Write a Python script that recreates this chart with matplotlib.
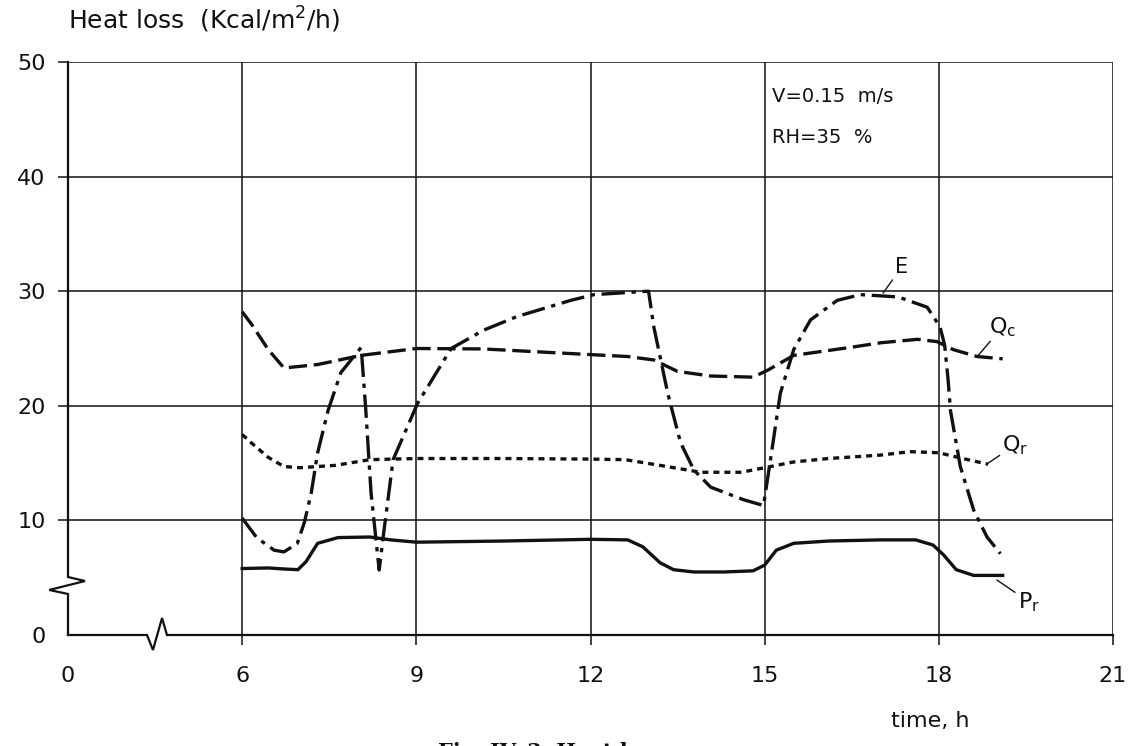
import numpy as np
import matplotlib
matplotlib.use("Agg")
import matplotlib.pyplot as plt
from matplotlib.transforms import blended_transform_factory

# hours (x) and heat loss in Kcal/m2/h (y)
pr_x = [6.0, 6.45, 6.72, 6.96, 7.1, 7.3, 7.65, 8.2, 8.56, 9.0, 10.5, 12.0, 12.64, 12.9,
        13.2, 13.43, 13.78, 14.3, 14.8, 15.0, 15.2, 15.5, 16.1, 17.0, 17.6, 17.9, 18.08,
        18.3, 18.6, 19.1]
pr_y = [5.8, 5.85, 5.76, 5.7, 6.4, 8.0, 8.5, 8.55, 8.3, 8.1, 8.2, 8.35, 8.3, 7.7,
        6.3, 5.7, 5.5, 5.5, 5.6, 6.1, 7.4, 8.0, 8.2, 8.3, 8.3, 7.85, 7.0,
        5.7, 5.2, 5.2]

qr_x = [6.0, 6.15, 6.45, 6.72, 7.0, 7.6, 8.2, 9.0, 10.5, 12.0, 12.6, 13.2, 13.9, 14.6,
        15.0, 15.5, 16.1, 17.0, 17.5, 18.0, 18.5, 18.85]
qr_y = [17.5, 16.8, 15.5, 14.7, 14.6, 14.8, 15.3, 15.4, 15.4, 15.35, 15.3, 14.8, 14.2, 14.2,
        14.6, 15.1, 15.4, 15.7, 16.0, 15.9, 15.3, 14.9]

qc_x = [6.0, 6.15, 6.45, 6.72, 7.3, 8.05, 9.0, 10.16, 11.5, 12.64, 13.09, 13.5, 14.07, 14.8,
        15.05, 15.5, 16.48, 17.0, 17.63, 17.97, 18.25, 18.66, 19.1]
qc_y = [28.2, 27.2, 24.9, 23.3, 23.6, 24.4, 25.0, 24.96, 24.6, 24.3, 24.0, 23.0, 22.6, 22.5,
        23.1, 24.4, 25.1, 25.5, 25.8, 25.6, 24.9, 24.3, 24.1]

e_x = [6.0, 6.25, 6.55, 6.72, 6.95, 7.07, 7.19, 7.3, 7.48, 7.7, 8.05, 8.13, 8.22, 8.36,
       8.45, 8.6, 9.02, 9.6, 10.16, 10.74, 11.66, 12.06, 13.0, 13.09, 13.33, 13.55, 13.78,
       14.07, 14.64, 14.98, 15.1, 15.27, 15.5, 15.79, 16.25, 16.65, 17.3, 17.8, 18.02, 18.1,
       18.16, 18.2, 18.37, 18.6, 18.83, 19.06]
e_y = [10.2, 8.5, 7.4, 7.25, 8.0, 9.8, 12.4, 15.9, 19.6, 22.9, 25.1, 19.6, 12.4, 5.67,
       9.4, 15.3, 20.2, 25.0, 26.6, 27.8, 29.2, 29.7, 30.0, 26.9, 21.1, 16.8, 14.4,
       12.9, 11.8, 11.3, 15.3, 21.1, 24.9, 27.5, 29.2, 29.7, 29.5, 28.6, 26.9, 25.3,
       22.25, 19.6, 14.7, 10.9, 8.55, 7.1]

x_ticks = [0, 6, 9, 12, 15, 18, 21]
y_ticks = [0, 10, 20, 30, 40, 50]


# broken time axis: 0..6 h squeezed to half scale
def fwd(x):
    x = np.asarray(x, dtype=float)
    return np.where(x >= 6, x, 6 - (6 - x) * 0.5)


def inv(u):
    u = np.asarray(u, dtype=float)
    return np.where(u >= 6, u, 6 - (6 - u) / 0.5)


fig = plt.figure(figsize=(11.33, 7.46), dpi=100)
ax = fig.add_axes([68 / 1133, 111 / 746, 1045 / 1133, 573 / 746])
ax.set_xscale("function", functions=(fwd, inv))
ax.set_xlim(0, 21)
ax.set_ylim(0, 50)
for s in ax.spines.values():
    s.set_visible(False)

ink = "#111111"
ax.vlines(x_ticks[1:], 0, 50, color=ink, lw=1.1, zorder=1)
ax.hlines(y_ticks[1:], 0, 21, color=ink, lw=1.1, zorder=1)

ax.set_xticks(x_ticks)
ax.set_yticks(y_ticks)
ax.tick_params(direction="out", length=7, width=1.1, color=ink, labelsize=16,
               labelcolor=ink)
ax.tick_params(axis="x", pad=15)
ax.tick_params(axis="y", pad=9)
ax.xaxis.get_major_ticks()[0].tick1line.set_visible(False)
ax.yaxis.get_major_ticks()[0].tick1line.set_visible(False)

# axis lines with the break marks
tl = blended_transform_factory(ax.transAxes, ax.transData)
ax.plot([0, 0, 0.0163, -0.018, 0, 0], [50, 5.06, 4.71, 3.93, 3.58, 0],
        color=ink, lw=1.6, transform=tl, clip_on=False, solid_joinstyle="miter")
ax.plot([0, 0.0756, 0.0813, 0.0900, 0.0947, 1], [0, 0, -1.31, 1.48, 0, 0],
        color=ink, lw=1.6, transform=tl, clip_on=False, solid_joinstyle="miter")

# curves
ax.plot(pr_x, pr_y, color=ink, lw=2.4, zorder=3)
ax.plot(qr_x, qr_y, color=ink, lw=2.4, ls=(0, (1.8, 1.5)), zorder=3)
ax.plot(qc_x, qc_y, color=ink, lw=2.4, ls=(0, (5.5, 2)), zorder=3)
ax.plot(e_x, e_y, color=ink, lw=2.4, ls=(0, (7, 2, 1.3, 2)), zorder=3)

# curve labels with leader lines
lead = dict(arrowstyle="-", color=ink, lw=1.0, shrinkA=0, shrinkB=0)
ax.annotate("E", xy=(17.04, 29.84), xytext=(17.36, 32.1), fontsize=15, color=ink,
            ha="center", va="center", arrowprops=lead)
ax.annotate(r"$\mathregular{Q_c}$", xy=(18.67, 24.35), xytext=(19.1, 26.9), fontsize=16,
            color=ink, ha="center", va="center", arrowprops=lead)
ax.annotate(r"$\mathregular{Q_r}$", xy=(18.85, 15.0), xytext=(19.32, 16.6), fontsize=16,
            color=ink, ha="center", va="center", arrowprops=lead)
ax.annotate(r"$\mathregular{P_r}$", xy=(19.0, 4.8), xytext=(19.55, 2.9), fontsize=16,
            color=ink, ha="center", va="center", arrowprops=lead)

ax.text(0.674, 0.939, "V=0.15  m/s", transform=ax.transAxes, fontsize=14, color=ink,
        va="center")
ax.text(0.674, 0.869, "RH=35  %", transform=ax.transAxes, fontsize=14, color=ink,
        va="center")

ax.text(0, 1.073, r"Heat loss  (Kcal/m$^2$/h)", transform=ax.transAxes, fontsize=18,
        color=ink, va="center")
ax.text(0.825, -0.150, "time, h", transform=ax.transAxes, fontsize=16, color=ink,
        ha="center", va="center")
fig.text(0.487, 0.006, "Fig. IV. 3. Heat loss", fontsize=15, family="DejaVu Serif",
         fontweight="bold", color=ink, ha="center", va="top")

fig.savefig("out.png", dpi=100)
